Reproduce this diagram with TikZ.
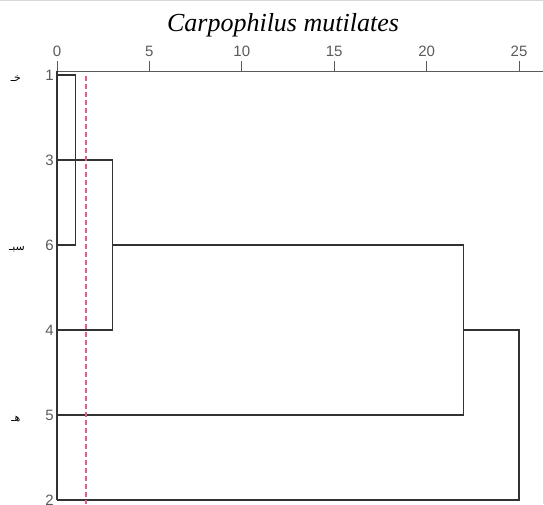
\documentclass[tikz,border=0pt]{standalone}
\usepackage{fontspec}
\setmainfont{Liberation Serif}
\setsansfont{Liberation Sans}
\newfontfamily\arabicfont[Script=Arabic]{DejaVu Sans}
\TeXXeTstate=1
\definecolor{linegray}{RGB}{50,50,50}
\definecolor{axisgray}{RGB}{90,90,90}
\definecolor{cutred}{RGB}{236,90,130}
\definecolor{framegray}{RGB}{215,215,215}
\begin{document}
\begin{tikzpicture}[x=1pt,y=-1pt]

\def\LINECOLOR{linegray}
\def\AXISCOLOR{axisgray}
\def\CUTCOLOR{cutred}
	\useasboundingbox (0,0) rectangle (544,504);
	\draw[framegray] (0,0.5) -- (544,0.5);
	\draw[framegray] (543.5,0) -- (543.5,504);
	\node (title) at (283,25) {\fontsize{26}{28}\selectfont\itshape Carpophilus mutilates};
	% scale and ticks
	\draw[\AXISCOLOR,line width=1pt] (57,71) -- (543,71);
	\foreach \v in {0,5,...,25}
	{
		\draw[\AXISCOLOR,line width=1pt] (57+18.48*\v,61) -- (57+18.48*\v,71);
		\node[text=\AXISCOLOR,font=\sffamily\fontsize{15}{15}\selectfont] (tick\v) at (57+18.48*\v,51) {\v};
	}
	% leaf labels
	\foreach \n/\r in {1/0,3/1,6/2,4/3,5/4,2/5}
		\node[anchor=east,inner sep=0pt,text=\AXISCOLOR,font=\sffamily\fontsize{15}{15}\selectfont] (leaf\n) at (54,75+85*\r) {\n};
	\node[font=\arabicfont\fontsize{11}{11}\selectfont] (grpa) at (16,79) {\beginR خـ\endR};
	\node[font=\arabicfont\fontsize{11}{11}\selectfont] (grpb) at (17,249) {\beginR سبـ\endR};
	\node[font=\arabicfont\fontsize{11}{11}\selectfont] (grpc) at (16,419) {\beginR هـ\endR};
	% tree
	\begin{scope}[shift={(57,75)},x=18.48pt,y=-85pt,line width=1.2pt,\LINECOLOR]
	\draw (0,-0.05) -- (0,5);
	\draw (0,0) -- (1,0) -- (1,2) -- (0,2);
	\draw (0,1) -- (3,1) -- (3,3) -- (0,3);
	\draw (3,2) -- (22,2) -- (22,4) -- (0,4);
	\draw (22,3) -- (25,3) -- (25,5) -- (0,5);
	\draw[\CUTCOLOR,line width=1.4pt,dash pattern=on 5pt off 3pt] (1.57,0.01) -- (1.57,5.05);
	\end{scope}

\end{tikzpicture}
\end{document}
